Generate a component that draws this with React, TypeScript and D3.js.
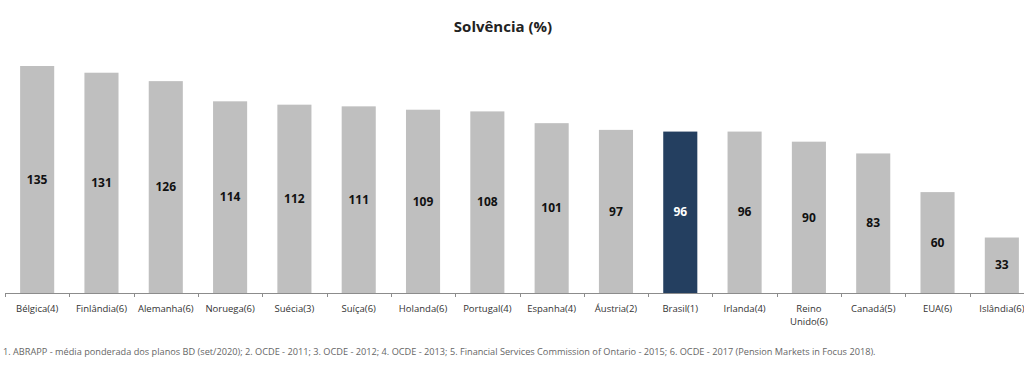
import React, { useEffect, useRef } from "react";
import * as d3 from "d3";

// Chart data
const categories = [
  "Bélgica(4)", "Finlândia(6)", "Alemanha(6)", "Noruega(6)", "Suécia(3)",
  "Suíça(6)", "Holanda(6)", "Portugal(4)", "Espanha(4)", "Áustria(2)",
  "Brasil(1)", "Irlanda(4)", "Reino Unido(6)", "Canadá(5)", "EUA(6)", "Islândia(6)",
];
const values = [135, 131, 126, 114, 112, 111, 109, 108, 101, 97, 96, 96, 90, 83, 60, 33];
const highlight = "Brasil(1)";
const title = "Solvência (%)";
const footnote =
  "1. ABRAPP - média ponderada dos planos BD (set/2020); 2. OCDE - 2011; 3. OCDE - 2012; 4. OCDE - 2013; 5. Financial Services Commission of Ontario - 2015; 6. OCDE - 2017 (Pension Markets in Focus 2018).";

const width = 1024;
const height = 370;
const font = "'Open Sans', 'DejaVu Sans', sans-serif";

const App: React.FC = () => {
  const ref = useRef<SVGSVGElement>(null);

  useEffect(() => {
    const svg = d3.select(ref.current);
    svg.selectAll("*").remove(); // Clear previous drawings

    const baseY = 293;
    const x = d3
      .scaleBand<string>()
      .domain(categories)
      .range([5, 1034])
      .paddingInner(0.47)
      .paddingOuter(0.235);

    const y = d3.scaleLinear().domain([0, 135]).range([baseY, 66]);

    const data = categories.map((c, i) => ({ cat: c, value: values[i] }));

    // Title
    svg
      .append("text")
      .attr("x", 503)
      .attr("y", 32)
      .attr("text-anchor", "middle")
      .attr("font-family", font)
      .attr("font-weight", "bold")
      .attr("font-size", 15)
      .attr("fill", "#222")
      .text(title);

    // Bars
    svg
      .append("g")
      .selectAll("rect")
      .data(data)
      .join("rect")
      .attr("x", (d) => x(d.cat)!)
      .attr("y", (d) => y(d.value))
      .attr("width", x.bandwidth())
      .attr("height", (d) => baseY - y(d.value))
      .attr("fill", (d) => (d.cat === highlight ? "#243F60" : "#BFBFBF"));

    // Value labels, centered in bar
    svg
      .append("g")
      .selectAll("text")
      .data(data)
      .join("text")
      .attr("x", (d) => x(d.cat)! + x.bandwidth() / 2)
      .attr("y", (d) => (y(d.value) + baseY) / 2)
      .attr("dy", "0.35em")
      .attr("text-anchor", "middle")
      .attr("font-family", font)
      .attr("font-weight", "bold")
      .attr("font-size", 12)
      .attr("fill", (d) => (d.cat === highlight ? "#fff" : "#111"))
      .text((d) => d.value);

    // Axis line with ticks at category boundaries
    const [r0, r1] = x.range();
    svg
      .append("line")
      .attr("x1", r0)
      .attr("x2", r1)
      .attr("y1", baseY + 0.5)
      .attr("y2", baseY + 0.5)
      .attr("stroke", "#8c8c8c");

    d3.range(categories.length + 1).forEach((i) => {
      const tx = Math.round(r0 + i * x.step()) + 0.5;
      svg
        .append("line")
        .attr("x1", tx)
        .attr("x2", tx)
        .attr("y1", baseY)
        .attr("y2", baseY + 4)
        .attr("stroke", "#8c8c8c");
    });

    // Category labels (wrap the long one onto two lines)
    data.forEach((d) => {
      const cx = x(d.cat)! + x.bandwidth() / 2;
      const lines = d.cat === "Reino Unido(6)" ? ["Reino", "Unido(6)"] : [d.cat];
      const t = svg
        .append("text")
        .attr("text-anchor", "middle")
        .attr("font-family", font)
        .attr("font-size", 9.5)
        .attr("fill", "#333");
      lines.forEach((l, j) => {
        t.append("tspan").attr("x", cx).attr("y", 312 + j * 13).text(l);
      });
    });

    // Footnote
    svg
      .append("text")
      .attr("x", 3)
      .attr("y", 355)
      .attr("font-family", font)
      .attr("font-size", 9.2)
      .attr("fill", "#666")
      .text(footnote);
  }, []);

  return (
    <svg
      ref={ref}
      width={width}
      height={height}
      style={{ position: "absolute", left: 0, top: 0, background: "#fff" }}
    />
  );
};

export default App;
